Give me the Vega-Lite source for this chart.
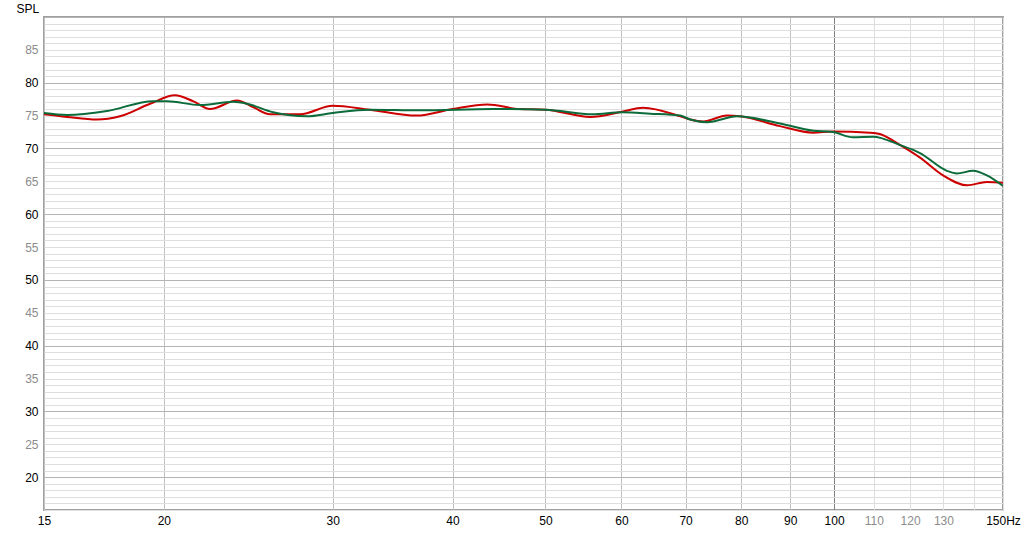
{
  "$schema": "https://vega.github.io/schema/vega-lite/v6.json",
  "description": "Frequency response, two measurements, 15-150 Hz",
  "width": 959,
  "height": 493,
  "autosize": "none",
  "padding": {"left": 44, "top": 17, "right": 21, "bottom": 24},
  "data": {
    "values": [
      {"series": "red", "hz": 15, "spl": 75.2},
      {"series": "red", "hz": 15.85, "spl": 74.8},
      {"series": "red", "hz": 17.04, "spl": 74.4},
      {"series": "red", "hz": 18.0, "spl": 74.9},
      {"series": "red", "hz": 19.35, "spl": 76.8},
      {"series": "red", "hz": 20.54, "spl": 78.1},
      {"series": "red", "hz": 21.45, "spl": 77.2},
      {"series": "red", "hz": 22.35, "spl": 76.0},
      {"series": "red", "hz": 23.84, "spl": 77.3},
      {"series": "red", "hz": 24.78, "spl": 76.3},
      {"series": "red", "hz": 25.81, "spl": 75.2},
      {"series": "red", "hz": 27.74, "spl": 75.2},
      {"series": "red", "hz": 30.0, "spl": 76.5},
      {"series": "red", "hz": 32.8, "spl": 75.9},
      {"series": "red", "hz": 36.7, "spl": 75.0},
      {"series": "red", "hz": 40.0, "spl": 76.0},
      {"series": "red", "hz": 43.5, "spl": 76.7},
      {"series": "red", "hz": 47.0, "spl": 76.0},
      {"series": "red", "hz": 50.0, "spl": 75.9},
      {"series": "red", "hz": 55.7, "spl": 74.8},
      {"series": "red", "hz": 60.1, "spl": 75.6},
      {"series": "red", "hz": 63.2, "spl": 76.2},
      {"series": "red", "hz": 69.1, "spl": 74.9},
      {"series": "red", "hz": 70.8, "spl": 74.4},
      {"series": "red", "hz": 73.0, "spl": 74.1},
      {"series": "red", "hz": 77.3, "spl": 75.0},
      {"series": "red", "hz": 79.8, "spl": 74.9},
      {"series": "red", "hz": 87.8, "spl": 73.4},
      {"series": "red", "hz": 95.1, "spl": 72.4},
      {"series": "red", "hz": 99.7, "spl": 72.6},
      {"series": "red", "hz": 109.0, "spl": 72.4},
      {"series": "red", "hz": 111.6, "spl": 72.2},
      {"series": "red", "hz": 117.2, "spl": 70.5},
      {"series": "red", "hz": 122.9, "spl": 68.6},
      {"series": "red", "hz": 129.9, "spl": 65.9},
      {"series": "red", "hz": 137.6, "spl": 64.4},
      {"series": "red", "hz": 144.3, "spl": 64.9},
      {"series": "red", "hz": 150, "spl": 64.8},
      {"series": "green", "hz": 15, "spl": 75.4},
      {"series": "green", "hz": 15.85, "spl": 75.1},
      {"series": "green", "hz": 17.45, "spl": 75.7},
      {"series": "green", "hz": 19.49, "spl": 77.2},
      {"series": "green", "hz": 20.16, "spl": 77.2},
      {"series": "green", "hz": 21.81, "spl": 76.6},
      {"series": "green", "hz": 23.61, "spl": 77.1},
      {"series": "green", "hz": 24.43, "spl": 76.8},
      {"series": "green", "hz": 26.0, "spl": 75.5},
      {"series": "green", "hz": 28.21, "spl": 74.9},
      {"series": "green", "hz": 30.0, "spl": 75.4},
      {"series": "green", "hz": 32.8, "spl": 75.9},
      {"series": "green", "hz": 37.0, "spl": 75.8},
      {"series": "green", "hz": 44.1, "spl": 76.0},
      {"series": "green", "hz": 50.0, "spl": 75.9},
      {"series": "green", "hz": 56.0, "spl": 75.2},
      {"series": "green", "hz": 60.1, "spl": 75.5},
      {"series": "green", "hz": 64.3, "spl": 75.3},
      {"series": "green", "hz": 69.1, "spl": 75.0},
      {"series": "green", "hz": 70.8, "spl": 74.4},
      {"series": "green", "hz": 73.7, "spl": 74.0},
      {"series": "green", "hz": 79.2, "spl": 74.9},
      {"series": "green", "hz": 87.8, "spl": 73.8},
      {"series": "green", "hz": 95.1, "spl": 72.7},
      {"series": "green", "hz": 99.7, "spl": 72.5},
      {"series": "green", "hz": 104.6, "spl": 71.7},
      {"series": "green", "hz": 109.8, "spl": 71.8},
      {"series": "green", "hz": 117.2, "spl": 70.5},
      {"series": "green", "hz": 122.9, "spl": 69.3},
      {"series": "green", "hz": 131.1, "spl": 66.6},
      {"series": "green", "hz": 134.3, "spl": 66.2},
      {"series": "green", "hz": 139.6, "spl": 66.6},
      {"series": "green", "hz": 144.3, "spl": 65.9},
      {"series": "green", "hz": 150, "spl": 64.3}
    ]
  },
  "encoding": {
    "x": {
      "field": "hz",
      "type": "quantitative",
      "scale": {"type": "log", "domain": [15, 150], "nice": false},
      "axis": {
        "title": null,
        "values": [15, 20, 30, 40, 50, 60, 70, 80, 90, 100, 110, 120, 130, 140, 150],
        "labelExpr": "datum.value == 140 ? '' : datum.value == 150 ? '150Hz' : datum.value",
        "labelColor": {"condition": {"test": "datum.value > 100 && datum.value < 150", "value": "#8c8c8c"}, "value": "#000000"},
        "gridColor": {
          "condition": [
            {"test": "datum.value == 100", "value": "#808080"},
            {"test": "datum.value > 100", "value": "#dedede"}
          ],
          "value": "#c0c0c0"
        },
        "labelOverlap": false,
        "labelFlush": false,
        "labelPadding": 5,
        "ticks": false,
        "domain": false
      }
    },
    "y": {
      "field": "spl",
      "type": "quantitative",
      "scale": {"domain": [15, 90], "nice": false, "zero": false},
      "axis": {
        "title": "SPL",
        "titleAngle": 0,
        "titleAlign": "left",
        "titleBaseline": "middle",
        "titleX": -28,
        "titleY": -9,
        "titleFontWeight": "normal",
        "titleFont": "Liberation Sans",
        "titleFontSize": 12,
        "titleColor": "#000000",
        "values": [15, 16, 17, 18, 19, 20, 21, 22, 23, 24, 25, 26, 27, 28, 29, 30, 31, 32, 33, 34, 35, 36, 37, 38, 39, 40, 41, 42, 43, 44, 45, 46, 47, 48, 49, 50, 51, 52, 53, 54, 55, 56, 57, 58, 59, 60, 61, 62, 63, 64, 65, 66, 67, 68, 69, 70, 71, 72, 73, 74, 75, 76, 77, 78, 79, 80, 81, 82, 83, 84, 85, 86, 87, 88, 89, 90],
        "labelExpr": "datum.value % 5 == 0 && datum.value >= 20 && datum.value <= 85 ? datum.value : ''",
        "labelColor": {"condition": {"test": "datum.value % 10 == 0", "value": "#000000"}, "value": "#8c8c8c"},
        "gridColor": {"condition": {"test": "datum.value % 10 == 0", "value": "#b4b4b4"}, "value": "#dedede"},
        "labelOverlap": false,
        "labelFlush": false,
        "labelPadding": 6,
        "ticks": false,
        "domain": false
      }
    }
  },
  "layer": [
    {
      "transform": [{"filter": "datum.series == 'red'"}],
      "mark": {"type": "line", "interpolate": "monotone", "color": "#cc0000", "strokeWidth": 2, "clip": true}
    },
    {
      "transform": [{"filter": "datum.series == 'green'"}],
      "mark": {"type": "line", "interpolate": "monotone", "color": "#0b6b3a", "strokeWidth": 2, "clip": true}
    }
  ],
  "config": {
    "background": "#ffffff",
    "view": {"stroke": "#a0a0a0", "strokeWidth": 2},
    "axis": {
      "labelFont": "Liberation Sans",
      "labelFontSize": 12,
      "gridWidth": 1,
      "gridOpacity": 1
    }
  }
}
